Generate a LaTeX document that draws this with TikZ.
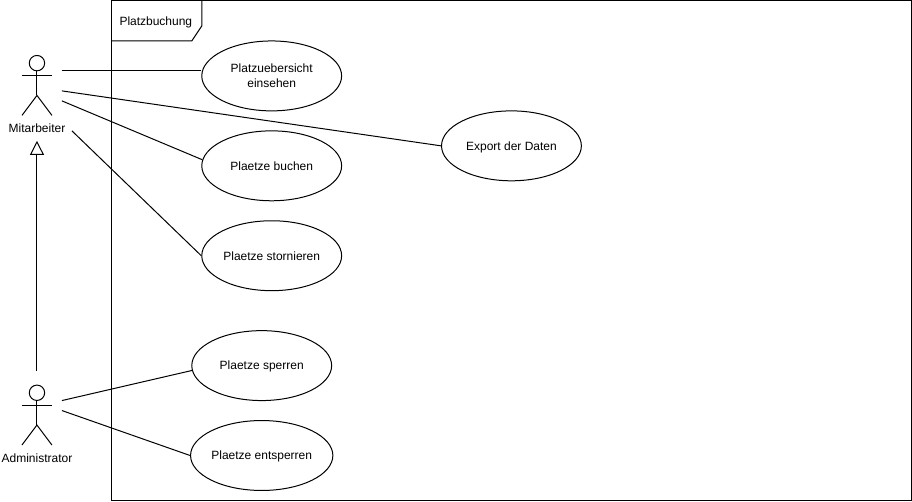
\documentclass[tikz,border=0pt]{standalone}
\usepackage{fontspec}
\setmainfont{Liberation Sans}
\usetikzlibrary{arrows.meta,shapes.geometric}
\tikzset{x=0.75pt,y=-0.75pt,
 every path/.style={line width=0.75pt,draw=black},
 uc/.style={draw,ellipse,minimum width=105pt,minimum height=52.5pt,inner sep=0pt,align=center,font=\fontsize{9pt}{11pt}\selectfont,text=black,fill=white},
 lbl/.style={font=\fontsize{9pt}{11pt}\selectfont,inner sep=0pt,text=black,draw=none},
 frameb/.style={draw,fill=white}
}
\newcommand{\actor}[2]{%
 \draw (#1,#2+7.7) circle[radius=7.7];
 \draw (#1,#2+15.4) -- (#1,#2+40);
 \draw (#1-15,#2+20) -- (#1+15,#2+20);
 \draw (#1-15,#2+60) -- (#1,#2+40) -- (#1+15,#2+60);
}
\newcommand{\tstrut}{\rule[-2.2pt]{0pt}{11pt}}
\begin{document}
\begin{tikzpicture}
\useasboundingbox (0,0) rectangle (912,501);
\fill[white,draw=none] (0,0) rectangle (912,501);
\draw[frameb] (111.5,0.5) rectangle (911.5,500.5);
\draw (111.5,40.5) -- (191.5,40.5) -- (201.5,25.5) -- (201.5,0.5);
\node[lbl] (title) at (155.5,20.5) {\tstrut Platzbuchung};
\actor{36.5}{55}
\actor{36.5}{385}
\node[lbl] (mit) at (36.5,128) {\tstrut Mitarbeiter};
\node[lbl] (adm) at (36.5,458.5) {\tstrut Administrator};
\coordinate (m1) at (61.5,70.5);
\coordinate (m2) at (61.5,90.5);
\coordinate (m3) at (61.5,100.5);
\coordinate (m4) at (71.5,130.5);
\coordinate (a1) at (61.5,400.5);
\coordinate (a2) at (61.5,410.5);
\coordinate (gs) at (36.5,370.5);
\coordinate (gt) at (36.5,140.5);
\node[uc] (u1) at (271.5,75.5) {\tstrut Platzuebersicht\\\tstrut einsehen};
\node[uc] (u2) at (271.5,165.5) {\tstrut Plaetze buchen};
\node[uc] (u3) at (271.5,255.5) {\tstrut Plaetze stornieren};
\node[uc] (u4) at (511.5,145.5) {\tstrut Export der Daten};
\node[uc] (u5) at (261.5,365.5) {\tstrut Plaetze sperren};
\node[uc] (u6) at (261.5,455.5) {\tstrut Plaetze entsperren};
\draw (m1) -- (m1 -| u1.178);
\draw (m2) -- (u4.west);
\draw (m3) -- (u2.175.5);
\draw (m4) -- (u3.west);
\draw (a1) -- (u5.184);
\draw (a2) -- (u6.west);
\draw[-{Triangle[open,length=10.5pt,width=10.5pt]}] (gs) -- (gt);
\end{tikzpicture}
\end{document}
